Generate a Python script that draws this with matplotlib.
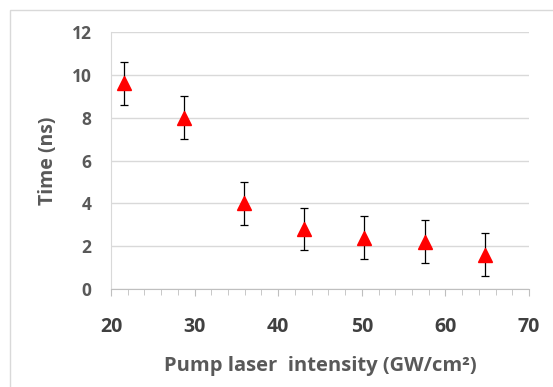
import numpy as np
from matplotlib import pyplot as plt
from matplotlib.ticker import MultipleLocator
from matplotlib.patches import Rectangle

# Data
intensity = [21.6, 28.7, 35.9, 43.1, 50.3, 57.5, 64.7]
time_ns = [9.6, 8.0, 4.0, 2.8, 2.4, 2.2, 1.6]
time_err = [1.0, 1.0, 1.0, 1.0, 1.0, 1.0, 1.0]

plt.rcParams['font.family'] = ['Open Sans', 'DejaVu Sans']

fig = plt.figure(figsize=(5.53, 3.87), dpi=100)
W, H = 553, 387
ax = fig.add_axes([111 / W, 1 - 289 / H, (529 - 111) / W, (289 - 32) / H])

# outer chart border (left and top only visible)
fig.patches.append(Rectangle((10 / W, -0.1), 1.2, (377 / H) + 0.1, transform=fig.transFigure,
                             fill=False, edgecolor='#d9d9d9', linewidth=1.0))

ax.errorbar(intensity, time_ns, yerr=time_err, fmt='none', ecolor='black',
            elinewidth=0.9, capsize=3, capthick=0.9, zorder=3)
ax.plot(intensity, time_ns, linestyle='none', marker='^', markersize=10,
        color='#ff0000', zorder=4)

ax.set_xlim(20, 70)
ax.set_ylim(0, 12)
ax.xaxis.set_major_locator(MultipleLocator(10))
ax.xaxis.set_minor_locator(MultipleLocator(2))
ax.yaxis.set_major_locator(MultipleLocator(2))

ax.grid(axis='y', color='#d9d9d9', linewidth=1.0)
ax.set_axisbelow(True)
for s in ['top', 'right']:
    ax.spines[s].set_visible(False)
ax.spines['left'].set_color('#d9d9d9')
ax.spines['bottom'].set_color('#bfbfbf')

ax.tick_params(axis='x', which='major', length=5, color='#bfbfbf', pad=15,
               labelsize=14, labelcolor='#404040')
ax.tick_params(axis='x', which='minor', length=4, color='#bfbfbf')
ax.tick_params(axis='y', length=0, pad=14, labelsize=12.5, labelcolor='#595959')
for lbl in ax.get_xticklabels() + ax.get_yticklabels():
    lbl.set_fontweight('bold')

ax.set_xlabel('Pump laser  intensity (GW/cm²)', fontsize=14.5, fontweight='bold',
              color='#595959', labelpad=14)
ax.set_ylabel('Time (ns)', fontsize=14, fontweight='bold', color='#595959', labelpad=10)

fig.savefig('out.png', dpi=100)
